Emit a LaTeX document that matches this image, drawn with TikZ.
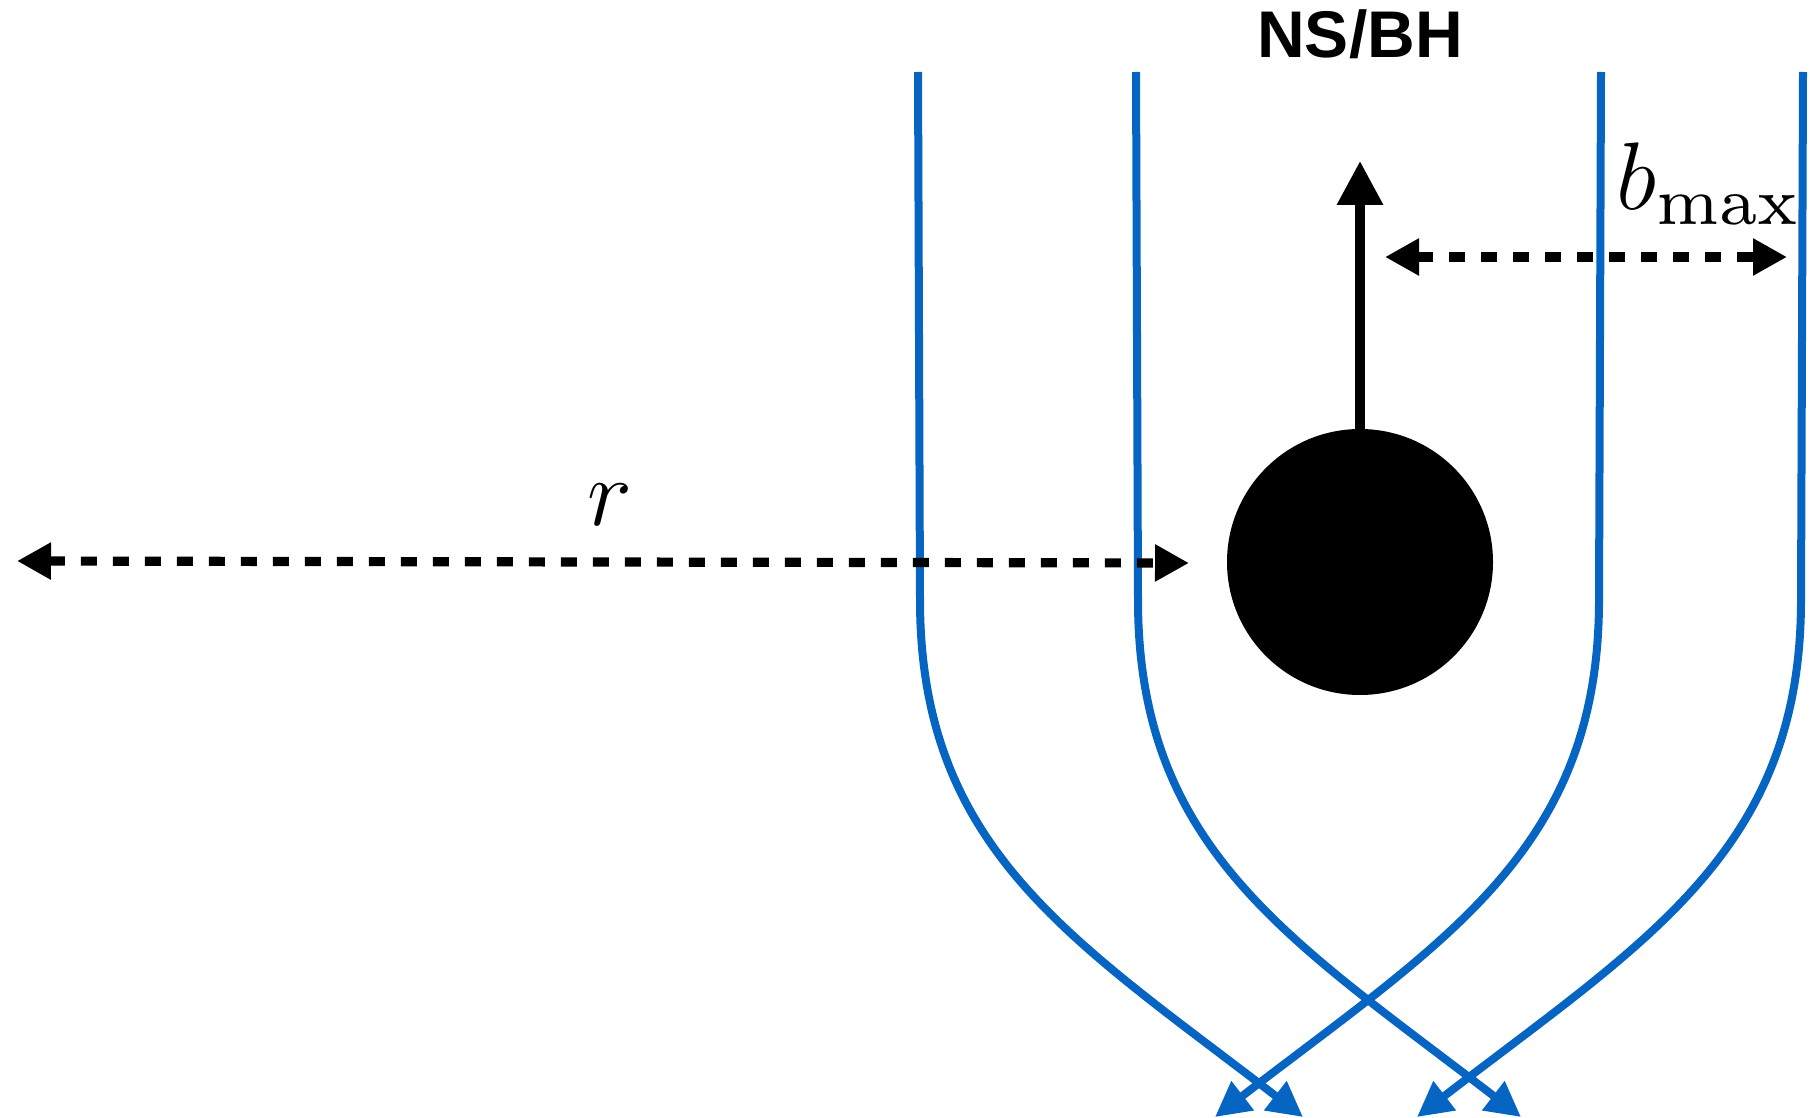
\RequirePackage{fix-cm}
\documentclass[tikz,border=0pt]{standalone}
\usepackage{fontspec}
\newfontfamily\labfont{Liberation Sans}
\newfontfamily\lmseven{lmroman7-regular.otf}
\usetikzlibrary{arrows.meta}
\definecolor{traj}{RGB}{6,101,194}
\begin{document}
\begin{tikzpicture}[x=0.5pt,y=-0.5pt,
  trajline/.style={draw=traj, line width=4pt, -{Triangle[length=17.5pt,width=17.5pt]}},
  dimline/.style={draw=black, line width=4.6pt, dash pattern=on 8pt off 8pt,
     {Triangle[length=17pt,width=17.5pt]}-{Triangle[length=17pt,width=17.5pt]}},
  spinarrow/.style={draw=black, line width=4.8pt, -{Triangle[length=22pt,width=22pt]}},
  mathlab/.style={inner sep=0pt, font=\fontsize{48}{52}\selectfont},
  titlelab/.style={inner sep=0pt, font=\labfont\bfseries\fontsize{33}{36}\selectfont},
  bhnode/.style={circle, fill=black, minimum size=133pt, inner sep=0pt},
]
\useasboundingbox (0,0) rectangle (1810,1118);

% b_max dimension
\coordinate (bl) at (1385,257);
\coordinate (br) at (1787,257);
\draw[dimline] (bl) -- (br);

% trajectories
\coordinate (t1) at (918,72);  \coordinate (k1) at (920,600);  \coordinate (e1) at (1303,1117);
\coordinate (t2) at (1136,72); \coordinate (k2) at (1138,600); \coordinate (e2) at (1521,1117);
\coordinate (t3) at (1601,72); \coordinate (k3) at (1599,600); \coordinate (e3) at (1215,1117);
\coordinate (t4) at (1803,72); \coordinate (k4) at (1801,600); \coordinate (e4) at (1417,1117);
\draw[trajline] (t1) -- (k1) .. controls +(0,250) and +(-230,-177) .. (e1);
\draw[trajline] (t2) -- (k2) .. controls +(0,250) and +(-230,-177) .. (e2);
\draw[trajline] (t3) -- (k3) .. controls +(0,250) and +(230,-177) .. (e3);
\draw[trajline] (t4) -- (k4) .. controls +(0,250) and +(230,-177) .. (e4);

% r dimension
\coordinate (rl) at (17,561);
\coordinate (rr) at (1189,563);
\draw[dimline] (rl) -- (rr);

% compact object
\node[bhnode] (bh) at (1360,562) {};
\coordinate (spintip) at (1360,161);
\draw[spinarrow] (bh.north) -- (spintip);

% labels
\node[titlelab, anchor=base] (title) at (1360,58) {NS/BH};
\node[mathlab, anchor=base west] (blab) at (1616,210) {$b_{\hbox{\lmseven\fontsize{33.6}{36}\selectfont max}}$};
\node[mathlab, anchor=base] (rlab) at (610,525) {$r$};
\end{tikzpicture}
\end{document}
